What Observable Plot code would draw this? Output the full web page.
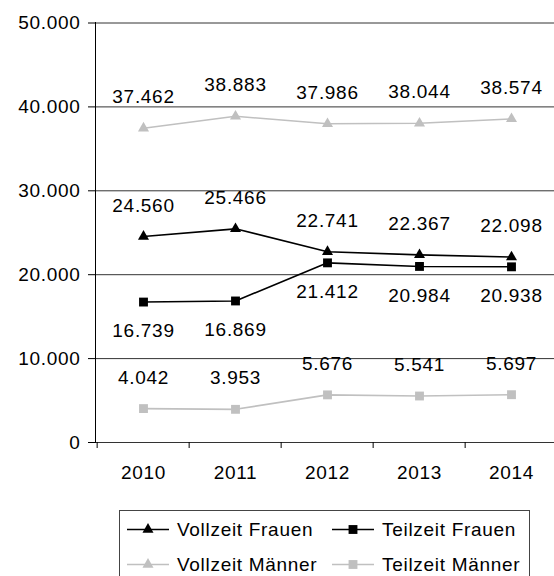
<!DOCTYPE html>
<html>
<head>
<meta charset="utf-8">
<script src="https://cdn.jsdelivr.net/npm/d3@7"></script>
<script src="https://cdn.jsdelivr.net/npm/@observablehq/plot@0.6"></script>
<style>
  html, body { margin: 0; padding: 0; background: #fff; overflow: hidden; }
  #chart { width: 554px; height: 576px; position: relative; }
  #legend { position: absolute; left: 119px; top: 510px; width: 411px; height: 90px;
            border: 1px solid #444; box-sizing: border-box; background: #fff; }
  svg text { letter-spacing: 0.7px; }
</style>
</head>
<body>
<div id="chart"></div>
<script>
// ---- data ----
const years = ["2010", "2011", "2012", "2013", "2014"];
const vollzeitFrauen = [24560, 25466, 22741, 22367, 22098];
const teilzeitFrauen = [16739, 16869, 21412, 20984, 20938];
const vollzeitMaenner = [37462, 38883, 37986, 38044, 38574];
const teilzeitMaenner = [4042, 3953, 5676, 5541, 5697];
const seriesNames = ["Vollzeit Frauen", "Teilzeit Frauen", "Vollzeit Männer", "Teilzeit Männer"];
const yTicks = [0, 10000, 20000, 30000, 40000, 50000];

// ---- styling ----
const font = "'Liberation Sans', Arial, Helvetica, sans-serif";
const fs = 19;
const de = d3.formatLocale({decimal: ",", thousands: ".", grouping: [3], currency: ["", " €"]});
const fmt = de.format(",d");

const series = [
  {name: seriesNames[0], values: vollzeitFrauen, color: "#000000", symbol: "triangle", r: 4.1, dy: -31},
  {name: seriesNames[1], values: teilzeitFrauen, color: "#000000", symbol: "square", r: 5, dy: 29},
  {name: seriesNames[2], values: vollzeitMaenner, color: "#c0c0c0", symbol: "triangle", r: 4.1, dy: -31},
  {name: seriesNames[3], values: teilzeitMaenner, color: "#c0c0c0", symbol: "square", r: 5, dy: -31}
];

const xRange = [95.5, 559];
const step = (xRange[1] - xRange[0]) / years.length;

const seriesMarks = series.flatMap(s => {
  const rows = years.map((yr, i) => ({year: yr, value: s.values[i]}));
  return [
    Plot.line(rows, {x: "year", y: "value", stroke: s.color, strokeWidth: 1.6}),
    Plot.dot(rows, {x: "year", y: "value", symbol: s.symbol, r: s.r, fill: s.color, stroke: "none"}),
    Plot.text(rows, {x: "year", y: "value", text: d => fmt(d.value), dy: s.dy, lineAnchor: "middle",
                     fill: "#000", fontSize: fs})
  ];
});

const plot = Plot.plot({
  width: 554,
  height: 500,
  marginLeft: 95,
  marginRight: 0,
  marginTop: 22,
  marginBottom: 58,
  x: {type: "point", domain: years, range: xRange, padding: 0.5},
  y: {domain: [0, 50000], range: [442, 22.5]},
  style: {fontFamily: font, fontSize: fs + "px", color: "#000", background: "#fff", overflow: "hidden"},
  marks: [
    Plot.gridY(yTicks, {stroke: "#333", strokeOpacity: 1, strokeWidth: 1}),
    Plot.frame({anchor: "left", stroke: "#000"}),
    Plot.axisY(yTicks, {tickSize: 7, tickPadding: 8, tickFormat: fmt, label: null, fontSize: fs, stroke: "#000"}),
    Plot.axisX({tickSize: 6, dx: -step / 2, tickFormat: () => "", label: null, stroke: "#000"}),
    Plot.axisX({tickSize: 0, tickPadding: 23, label: null, fontSize: fs}),
    ...seriesMarks
  ]
});

const chart = document.getElementById("chart");
chart.appendChild(plot);

// ---- legend (HTML below the SVG) ----
const legend = d3.select(chart).append("div").attr("id", "legend");
const lsvg = legend.append("svg").attr("width", 409).attr("height", 88)
  .style("font-family", font).style("font-size", fs + "px").style("display", "block");
const cols = [7, 212];
const rowsY = [18.5, 53.5];
series.forEach((s, i) => {
  const x0 = cols[i % 2];
  const y0 = rowsY[Math.floor(i / 2)];
  const g = lsvg.append("g").attr("transform", `translate(${x0},${y0})`);
  g.append("line").attr("x1", 0).attr("x2", 42).attr("y1", 0).attr("y2", 0)
    .attr("stroke", s.color).attr("stroke-width", 1.6);
  const sym = s.symbol === "triangle" ? d3.symbolTriangle : d3.symbolSquare;
  g.append("path").attr("d", d3.symbol(sym, Math.PI * s.r * s.r)())
    .attr("transform", "translate(21,0)").attr("fill", s.color);
  g.append("text").attr("x", 50).attr("y", 0).attr("dy", "0.32em").attr("fill", "#000").text(s.name);
});
</script>
</body>
</html>
